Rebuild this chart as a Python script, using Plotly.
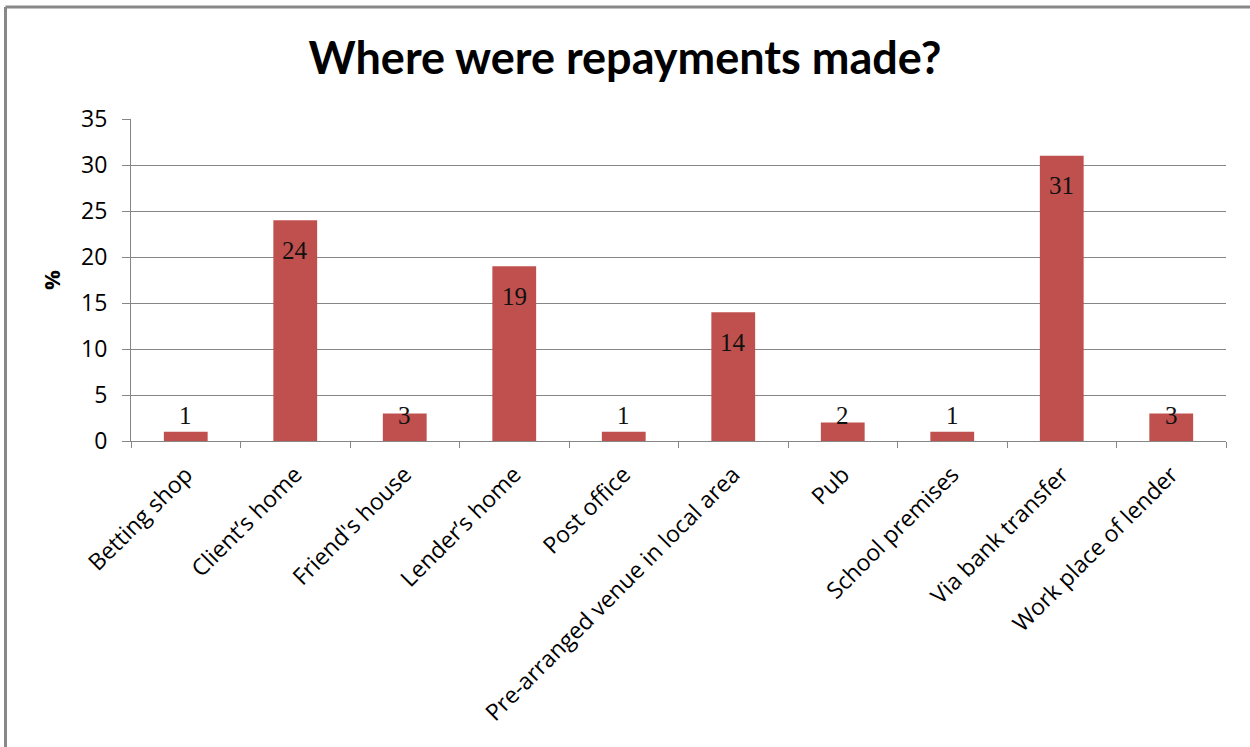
import plotly.graph_objects as go

# Repayment location shares (%)
categories = [
    "Betting shop", "Client’s home", "Friend's house", "Lender’s home",
    "Post office", "Pre-arranged venue in local area", "Pub",
    "School premises", "Via bank transfer", "Work place of lender",
]
values = [1, 24, 3, 19, 1, 14, 2, 1, 31, 3]
y_ticks = [0, 5, 10, 15, 20, 25, 30, 35]

W, H = 1250, 747
L, R, T, B = 131, 24, 119, 306
plot_h = H - T - B
y_max = 35
px_per_unit = plot_h / y_max

bar_color = "#C0504D"
grid_color = "#868686"
label_font = dict(family="Liberation Serif", size=25, color="#111")

fig = go.Figure(go.Bar(
    x=categories, y=values, marker_color=bar_color, marker_line_width=0,
    hoverinfo="x+y",
))

# value labels: inside the bar end, lifted off the baseline for short bars
for c, v in zip(categories, values):
    shift = -30
    if v * px_per_unit + shift < 26:
        fig.add_annotation(x=c, y=0, yshift=26, text=str(v), showarrow=False,
                           font=label_font, yanchor="middle")
    else:
        fig.add_annotation(x=c, y=v, yshift=shift, text=str(v), showarrow=False,
                           font=label_font, yanchor="middle")

# chart frame along the left and top edges
def px_x(p):
    return (p - L) / (W - L - R)

def px_y(p):
    return (H - B - p) / plot_h

frame = dict(color="#888888", width=3)
fig.add_shape(type="line", xref="paper", yref="paper",
              x0=px_x(5.5), x1=px_x(1252), y0=px_y(7), y1=px_y(7), line=frame)
fig.add_shape(type="line", xref="paper", yref="paper",
              x0=px_x(5.5), x1=px_x(5.5), y0=px_y(7), y1=px_y(760), line=frame)

fig.update_layout(
    width=W, height=H,
    margin=dict(l=L, r=R, t=T, b=B, autoexpand=False),
    paper_bgcolor="white", plot_bgcolor="white",
    bargap=0.6,
    showlegend=False,
    title=dict(text="<b>Where were repayments made?</b>", x=0.5, xref="container",
               y=1 - 58 / H, yanchor="middle",
               font=dict(family="Lato", size=45, color="#000")),
    font=dict(family="Open Sans", color="#000"),
)

fig.update_xaxes(
    type="category", showgrid=False, showline=True, linecolor=grid_color,
    linewidth=1, ticks="outside", ticklen=6, tickcolor=grid_color,
    tickson="boundaries", tickangle=-45, ticklabelstandoff=10,
    tickfont=dict(family="Open Sans", size=23, color="#000"),
)
fig.update_yaxes(
    range=[0, y_max], tickvals=y_ticks, showgrid=True, gridcolor=grid_color,
    gridwidth=1, showline=True, linecolor=grid_color, linewidth=1,
    ticks="outside", ticklen=8, tickcolor=grid_color, zeroline=False,
    ticklabelstandoff=10,
    tickfont=dict(family="Open Sans", size=23, color="#000"),
    title=dict(text="<b>%</b>", standoff=14,
               font=dict(family="Open Sans", size=22, color="#000")),
)

fig.write_html("out.html")
